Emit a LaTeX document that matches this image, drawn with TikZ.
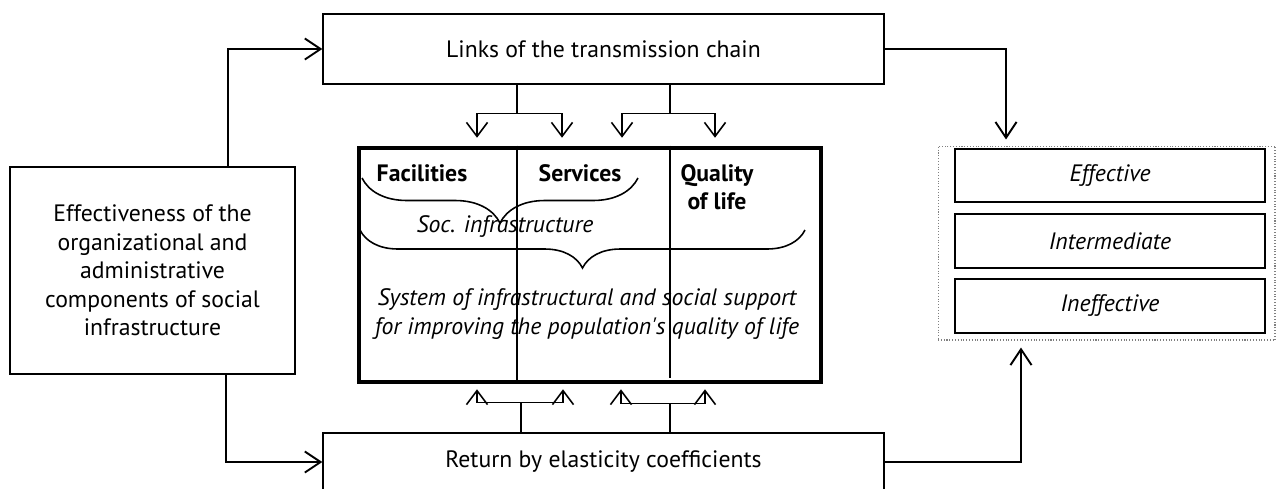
\documentclass[tikz,border=0pt]{standalone}
\usepackage{fontspec}
\setmainfont{PT Sans}
\usetikzlibrary{positioning, calc, arrows.meta, decorations.pathreplacing}
\tikzset{
  box/.style={draw, line width=0.8pt, align=center, inner sep=0pt},
  sysbox/.style={draw, line width=2.6pt, inner sep=0pt},
  link/.style={line width=1.1pt, -{Straight Barb[length=9pt, width=12pt, line width=1.1pt]}},
  split/.style={line width=0.9pt},
  splittip/.style={line width=0.9pt, -{Straight Barb[length=8pt, width=12pt, line width=0.9pt]}},
  brc/.style={line width=0.9pt, decorate, decoration={brace, mirror, amplitude=#1}},
}
\newcommand{\txt}{\fontsize{13.5}{16.2}\selectfont}
\begin{document}
\begin{tikzpicture}[x=0.02cm, y=-0.02cm, font=\txt]
\clip (0,0) rectangle (1276,488);
% outer blocks
\node[box, minimum width=5.7cm, minimum height=4.14cm] (eff) at (152.5,270.5)
  {Effectiveness of the\\organizational and\\administrative\\components of social\\infrastructure};
\node[box, minimum width=11.22cm, minimum height=1.4cm] (links) at (603.5,49) {Links of the transmission chain};
\node[box, minimum width=11.22cm, minimum height=1.16cm] (ret) at (603.5,462) {Return by elasticity coefficients};

% the system box with its three columns
\node[sysbox, minimum width=9.24cm, minimum height=4.68cm] (sys) at (590,265) {};
\draw[line width=0.8pt] ($(sys.north)+(-73,0)$) -- ($(sys.south)+(-73,0)$);
\draw[line width=0.8pt] ($(sys.north)+(80,0)$) -- ($(sys.south)+(80,-6)$);
\node[font=\txt\bfseries] (fac) at (422,173) {Facilities};
\node[font=\txt\bfseries] (serv) at (580,173) {Services};
\node[font=\txt\bfseries, align=center] (qual) at (717,187) {Quality\\of life};
\draw[brc=0.9cm] (362,178) -- (638,178);
\node[font=\txt\itshape] (soc) at (505,227) {Soc. infrastructure};
\draw[brc=0.76cm] (360,230) -- (805,230);
\node[font=\txt\itshape, align=center] (sup) at (587,314)
  {System of infrastructural and social support\\for improving the population\textquotesingle s quality of life};

% result grades
\node[draw, densely dotted, line width=0.6pt, gray, minimum width=6.74cm, minimum height=3.88cm] (out) at (1106.5,243) {};
\node[box, font=\txt\itshape, minimum width=6.2cm, minimum height=1.06cm] (good) at (1110,175.5) {Effective};
\node[box, font=\txt\itshape, minimum width=6.2cm, minimum height=1.08cm] (mid) at (1110,241) {Intermediate};
\node[box, font=\txt\itshape, minimum width=6.2cm, minimum height=1.08cm] (bad) at (1110,306) {Ineffective};

% main connectors
\draw[link] ([xshift=1.51cm]eff.north) |- (links.west);
\draw[link] ([xshift=1.47cm]eff.south) |- (ret.west);
\draw[link] (links.east) -| ($(out.north)+(-100.5,-6)$);
\draw[link] (ret.east) -| ($(out.south)+(-85.5,7)$);

% split arrows into the system box
\coordinate (t1) at ($(links.south)+(-86.5,29)$);
\coordinate (t2) at ($(links.south)+(66.5,29)$);
\draw[split] (links.south -| t1) -- (t1);
\draw[split] (links.south -| t2) -- (t2);
\draw[splittip] (t1) -| ($(sys.north)+(-113,-8)$);
\draw[splittip] (t1) -| ($(sys.north)+(-28,-8)$);
\draw[splittip] (t2) -| ($(sys.north)+(32,-8)$);
\draw[splittip] (t2) -| ($(sys.north)+(125,-8)$);

\coordinate (b1) at ($(ret.north)+(-82.5,-30)$);
\coordinate (b2) at ($(ret.north)+(66.5,-29)$);
\draw[split] (ret.north -| b1) -- (b1);
\draw[split] (ret.north -| b2) -- (b2);
\draw[splittip] (b1) -| ($(sys.south)+(-113,5)$);
\draw[splittip] (b1) -| ($(sys.south)+(-27,5)$);
\draw[splittip] (b2) -| ($(sys.south)+(31,5)$);
\draw[splittip] (b2) -| ($(sys.south)+(115,5)$);
\end{tikzpicture}
\end{document}
